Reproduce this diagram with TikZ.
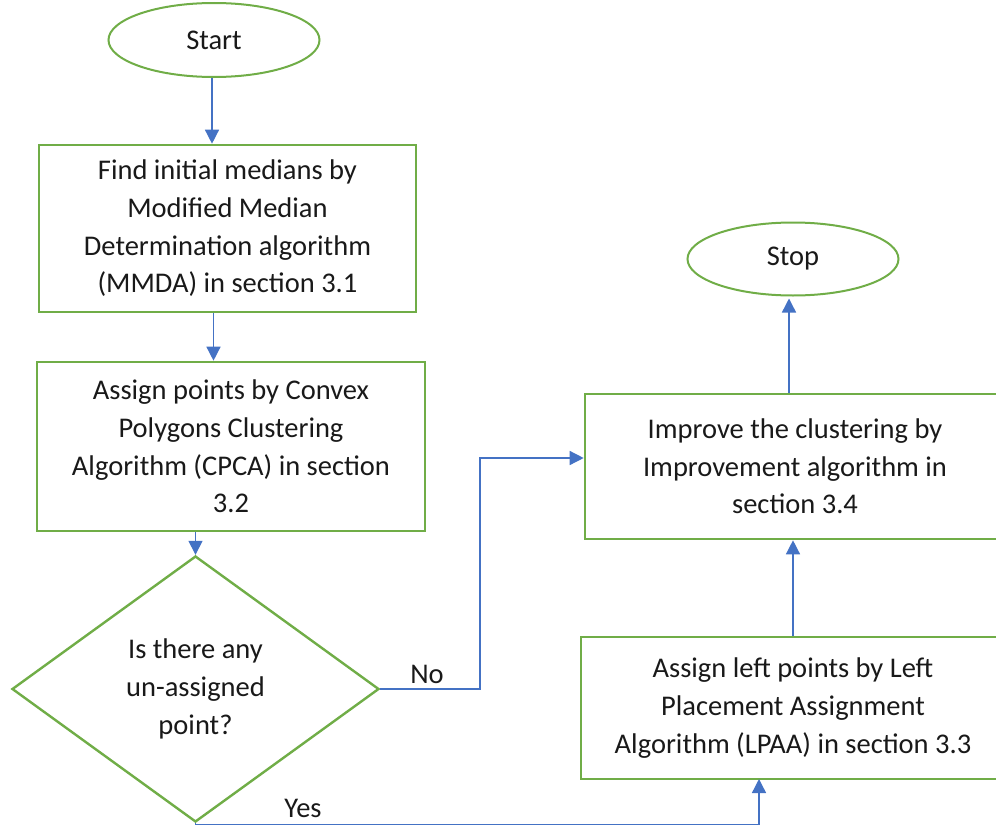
\documentclass[tikz,border=0pt]{standalone}
\usepackage{fontspec}
\setmainfont{Carlito}
\usetikzlibrary{shapes.geometric,arrows.meta,calc}
\definecolor{boxgreen}{HTML}{70AD47}
\definecolor{arrowblue}{HTML}{4472C4}
\begin{document}
\begin{tikzpicture}[x=1pt,y=-1pt,
  every node/.style={font=\fontsize{28.5}{37.7}\selectfont, text=black!90},
  procbox/.style={draw=boxgreen, line width=2.6pt, rectangle, align=center, inner sep=0pt},
  termbox/.style={draw=boxgreen, line width=2pt, ellipse, inner sep=0pt},
  decbox/.style={draw=boxgreen, line width=2.4pt, diamond, align=center, inner sep=0pt},
  flow/.style={draw=arrowblue, line width=1.4pt, -{Triangle[width=14pt,length=14pt]}},
  lbl/.style={inner sep=0pt}
]
\useasboundingbox (0,0) rectangle (996,827);
\node[termbox, minimum width=211pt, minimum height=74pt] (start) at (214,40) {Start};
\node[procbox, minimum width=377pt, minimum height=167pt] (box1) at (227.5,228.5)
  {Find initial medians by\\Modified Median\\Determination algorithm\\(MMDA) in section 3.1};
\node[procbox, minimum width=388pt, minimum height=169pt] (box2) at (231,446.5)
  {Assign points by Convex\\Polygons Clustering\\Algorithm (CPCA) in section\\3.2};
\node[decbox, minimum width=367pt, minimum height=266pt] (dia) at (195.5,689)
  {Is there any\\un-assigned\\point?};
\node[procbox, minimum width=420pt, minimum height=145pt] (box3) at (795,466.5)
  {Improve the clustering by\\Improvement algorithm in\\section 3.4};
\node[procbox, minimum width=424pt, minimum height=142pt] (box4) at (793,708)
  {Assign left points by Left\\Placement Assignment\\Algorithm (LPAA) in section 3.3};
\node[termbox, minimum width=211pt, minimum height=73pt] (stop) at (793,259) {Stop};
\node[lbl] (no) at (427,674) {No};
\node[lbl] (yes) at (303,808) {Yes};
\coordinate (nojoint) at (480,458);
\coordinate (yesturn) at (759,824.5);
\coordinate (yesjoint) at (759,779);
\draw[flow] ([xshift=-2pt]start.south) -- ([xshift=-2pt]start.south |- box1.north);
\draw[flow] ([xshift=-14pt]box1.south) -- ([xshift=-14pt]box1.south |- box2.north);
\draw[flow] (dia.north |- box2.south) -- (dia.north);
\draw[flow] (dia.east) -| (nojoint) -- (nojoint -| box3.west);
\draw[flow] (dia.south) |- (yesturn) -- (yesjoint);
\draw[flow] (box4.north) -- (box4.north |- box3.south);
\draw[flow] ([xshift=-6pt]box3.north) -- ([xshift=-6pt,yshift=-2pt]box3.north |- stop.south);
\end{tikzpicture}
\end{document}
